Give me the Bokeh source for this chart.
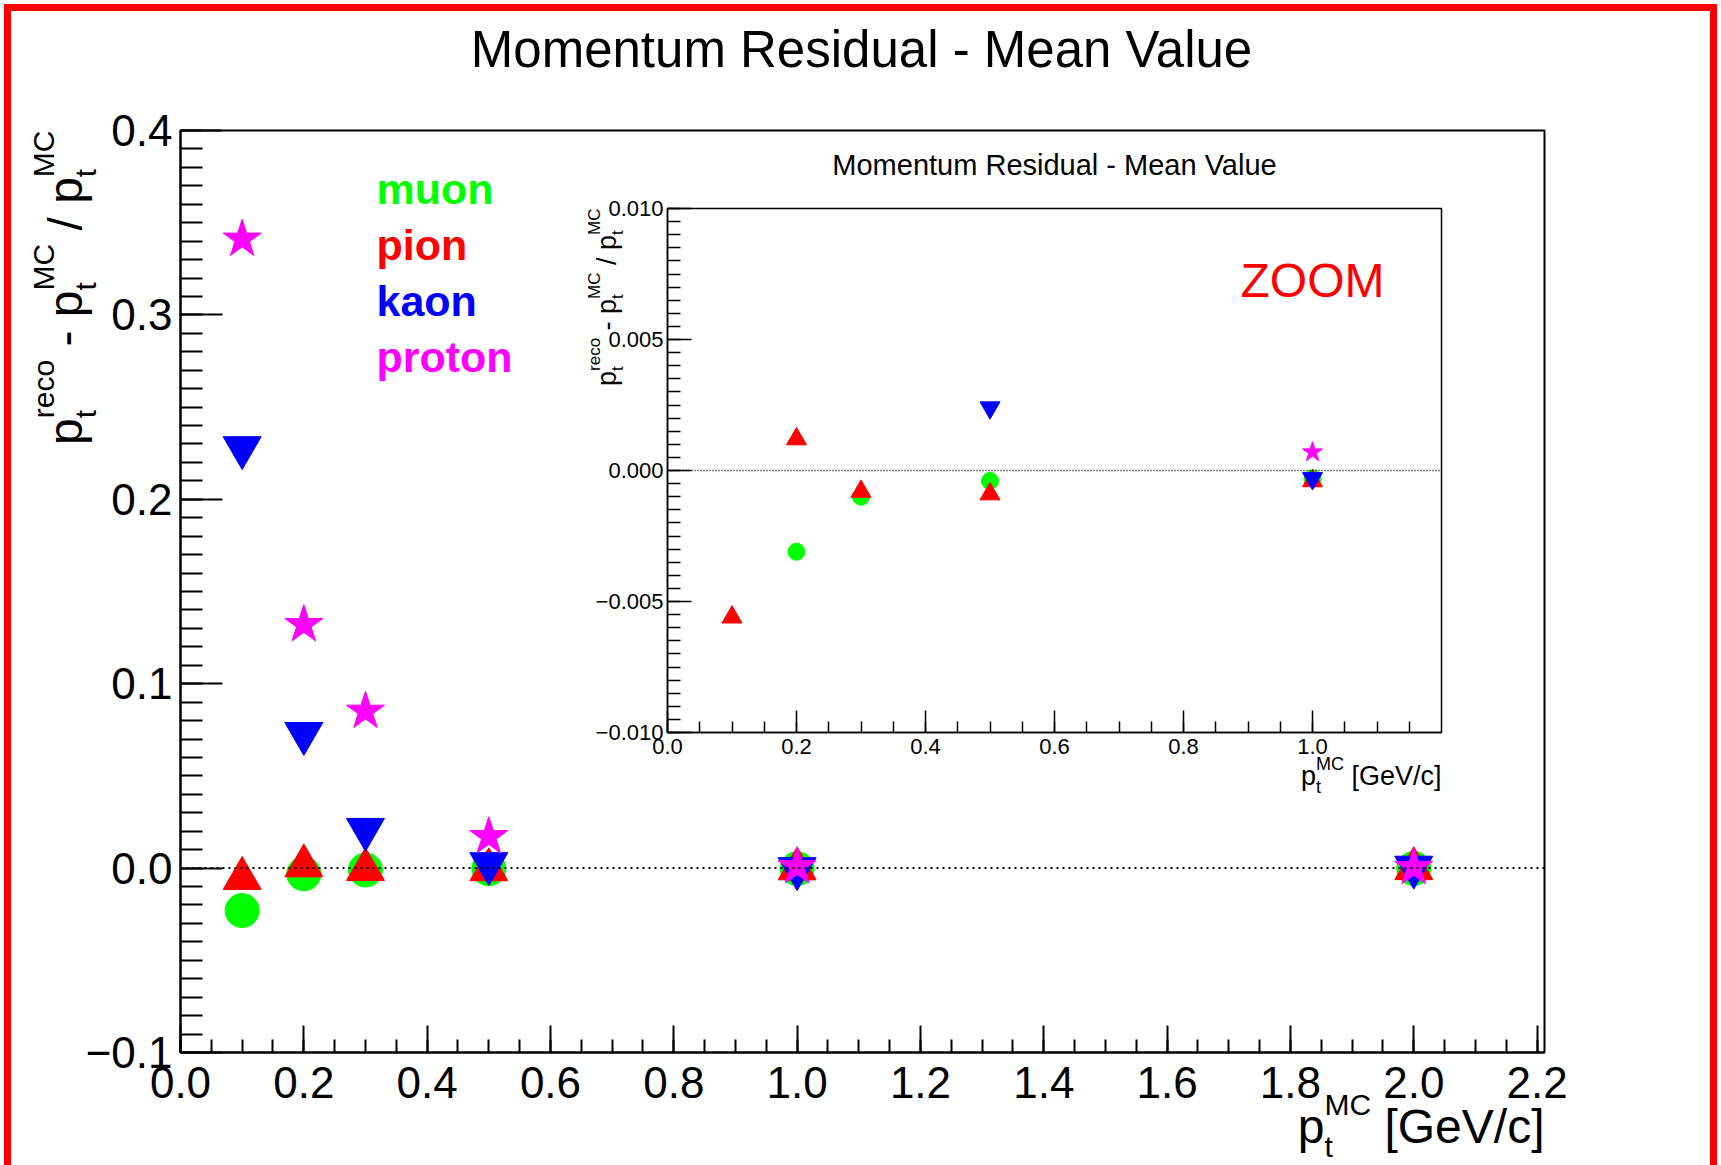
import math
from bokeh.plotting import figure
from bokeh.models import (Range1d, SingleIntervalTicker, CustomJSTickFormatter, Label,
                          Span, GridBox, Div, Column)
from bokeh.embed import file_html
from bokeh.resources import INLINE

# ---------------- data ----------------
pt_mc = [0.1, 0.2, 0.3, 0.5, 1.0, 2.0]
res_muon = [-0.0230, -0.0031, -0.0010, -0.0004, -0.0003, -0.0002]
res_pion = [-0.0056, 0.0012, -0.0008, -0.0009, -0.0004, -0.0003]
res_kaon = [0.228, 0.073, 0.021, 0.0024, -0.0003, 0.0005]
res_proton = [0.341, 0.132, 0.085, 0.017, 0.0007, 0.0003]
species = ["muon", "pion", "kaon", "proton"]
series = [res_muon, res_pion, res_kaon, res_proton]
colors = ["#00ff00", "#ff0000", "#0000ff", "#ff00ff"]
markers = ["circle", "triangle", "inverted_triangle", "star"]
title_text = "Momentum Residual - Mean Value"
zoom_text = "ZOOM"

FONT = "Liberation Sans"
W, H = 1721, 1165

# ---------------- text layer (page-pixel coordinates) ----------------
txt = figure(width=W, height=H, x_range=Range1d(0, W), y_range=Range1d(H, 0),
             output_backend="svg", toolbar_location=None, title=None,
             x_axis_location=None, y_axis_location=None, min_border=0)
txt.background_fill_alpha = 0
txt.border_fill_alpha = 0
txt.outline_line_color = None
txt.xgrid.visible = False
txt.ygrid.visible = False

CW = {' ': 278, '-': 333, '/': 278, '[': 278, ']': 278, 'G': 778, 'e': 556, 'V': 667,
      'c': 500, 'p': 556, 'M': 833, 'C': 722, 'r': 333, 'o': 556, 't': 278}


def tw(s, size):
    return sum(CW.get(ch, 556) for ch in s) * size / 1000.0


def add_text(px, py, text, size, color="black", align="left", bold=False, angle=0.0):
    txt.add_layout(Label(x=px, y=py, text=text, angle=angle, text_font=FONT,
                         text_font_size=f"{size}px", text_color=color, text_align=align,
                         text_baseline="alphabetic",
                         text_font_style="bold" if bold else "normal"))


def rich_label(items, anchor, align, big, small, up, down, angle=0.0):
    def adv_of(it):
        if it[0] == "t":
            return tw(it[1], big)
        return max(tw(it[1], small), tw(it[2], small))
    total = sum(adv_of(it) for it in items)
    ax_, ay_ = math.cos(angle), -math.sin(angle)
    ux, uy = -math.sin(angle), -math.cos(angle)
    sx, sy = anchor
    if align == "right":
        sx -= total * ax_
        sy -= total * ay_
    s = 0.0
    for it in items:
        if it[0] == "t":
            t = it[1]
            lead = len(t) - len(t.lstrip())
            pieces = [(t.strip(), big, 0.0, tw(" " * lead, big))]
        else:
            pieces = [(it[1], small, up, 0.0), (it[2], small, -down, 0.0)]
        for t, size, shift, off in pieces:
            d = s + off
            add_text(sx + d * ax_ + shift * ux, sy + d * ay_ + shift * uy, t, size, angle=angle)
        s += adv_of(it)


def style_axes(fig, xint, xminor, yint, yminor, xfmt, yfmt, lab_size, xin, xmin_in, yin, ymin_in,
               xstand, ystand, lw):
    fig.xaxis.ticker = SingleIntervalTicker(interval=xint, num_minor_ticks=xminor)
    fig.yaxis.ticker = SingleIntervalTicker(interval=yint, num_minor_ticks=yminor)
    fig.xaxis.formatter = CustomJSTickFormatter(
        code=f"const v = Math.abs(tick) < 1e-9 ? 0 : tick; return v.toFixed({xfmt}).replace('-', '\u2212');")
    fig.yaxis.formatter = CustomJSTickFormatter(
        code=f"const v = Math.abs(tick) < 1e-9 ? 0 : tick; return v.toFixed({yfmt}).replace('-', '\u2212');")
    for ax in (fig.xaxis[0], fig.yaxis[0]):
        ax.axis_line_color = "black"
        ax.axis_line_width = lw
        ax.major_tick_out = 0
        ax.minor_tick_out = 0
        ax.major_tick_line_color = "black"
        ax.minor_tick_line_color = "black"
        ax.major_tick_line_width = lw
        ax.minor_tick_line_width = lw
        ax.major_label_text_font = FONT
        ax.major_label_text_font_size = f"{lab_size}px"
        ax.major_label_text_color = "black"
    fig.xaxis.major_tick_in = xin
    fig.xaxis.minor_tick_in = xmin_in
    fig.yaxis.major_tick_in = yin
    fig.yaxis.minor_tick_in = ymin_in
    fig.xaxis.major_label_standoff = xstand
    fig.yaxis.major_label_standoff = ystand
    fig.xgrid.visible = False
    fig.ygrid.visible = False
    fig.outline_line_color = "black"
    fig.outline_line_width = lw


# ---------------- main plot ----------------
ML, MR, MT, MB = 180, 1544, 130, 1052
main = figure(width=W, height=H, x_range=Range1d(0.0, 2.212), y_range=Range1d(-0.1, 0.4),
              output_backend="svg", toolbar_location=None, title=None,
              min_border_left=ML, min_border_right=W - MR, min_border_top=MT,
              min_border_bottom=H - MB)
main.background_fill_color = "white"
main.border_fill_color = "white"
style_axes(main, 0.2, 4, 0.1, 10, 1, 1, 44, 27, 13, 42, 22, 14, 8, 2)
main.add_layout(Span(location=0, dimension="width", line_color="black",
                     line_dash="2 4", line_width=2))
main_sizes = {"circle": 34, "triangle": 38, "inverted_triangle": 38, "star": 40}
for vals, c, m in zip(series, colors, markers):
    main.scatter(pt_mc, vals, marker=m, size=main_sizes[m], fill_color=c, line_color=c)

add_text(861, 49, title_text, 51, align="center")
for i, (name, c) in enumerate(zip(species, colors)):
    add_text(376, 188 + 56 * i, name, 43, color=c, bold=True)
rich_label([("t", "p"), ("ss", "MC", "t"), ("t", " [GeV/c]")],
           (1544, 1126), "right", 48, 30, 22, 20)
rich_label([("t", "p"), ("ss", "reco", "t"), ("t", " - "), ("t", "p"),
            ("ss", "MC", "t"), ("t", " / "), ("t", "p"), ("ss", "MC", "t")],
           (65, 130), "right", 48, 30, 22, 20, angle=math.pi / 2)

# ---------------- inset plot ----------------
IL, IR, IT, IB = 667, 1441, 208, 732
inset = figure(width=W, height=H, x_range=Range1d(0.0, 1.2), y_range=Range1d(-0.01, 0.01),
               output_backend="svg", toolbar_location=None, title=None,
               min_border_left=IL, min_border_right=W - IR,
               min_border_top=IT, min_border_bottom=H - IB)
inset.background_fill_alpha = 0
inset.border_fill_alpha = 0
style_axes(inset, 0.2, 4, 0.005, 10, 1, 3, 22, 22, 11, 24, 13, 6, 4, 1.5)
inset.add_layout(Span(location=0, dimension="width", line_color="black",
                      line_dash="1 2", line_width=1.5))
inset_sizes = {"circle": 17, "triangle": 20, "inverted_triangle": 20, "star": 21}
for vals, c, m in zip(series, colors, markers):
    inset.scatter(pt_mc, vals, marker=m, size=inset_sizes[m], fill_color=c, line_color=c)

add_text(1054, 164, title_text, 29, align="center")
add_text(1312, 280, zoom_text, 48, color="#ff0000", align="center")
rich_label([("t", "p"), ("ss", "MC", "t"), ("t", " [GeV/c]")],
           (1441, 775), "right", 27, 18, 12, 11)
rich_label([("t", "p"), ("ss", "reco", "t"), ("t", " - "), ("t", "p"),
            ("ss", "MC", "t"), ("t", " / "), ("t", "p"), ("ss", "MC", "t")],
           (606, 208), "right", 27, 17, 12, 11, angle=math.pi / 2)

# ---------------- red page border ----------------
border = Div(text="", width=W - 8, height=H - 4, margin=(4, 0, 0, 4),
             styles={"border-top": "7px solid #ff0000", "border-left": "7px solid #ff0000",
                     "border-right": "7px solid #ff0000", "box-sizing": "border-box",
                     "pointer-events": "none"})

layout = GridBox(children=[(Column(children=[main]), 0, 0),
                           (Column(children=[inset]), 0, 0),
                           (Column(children=[txt]), 0, 0),
                           (border, 0, 0)])

open("out.html", "w").write(file_html(layout, INLINE))
